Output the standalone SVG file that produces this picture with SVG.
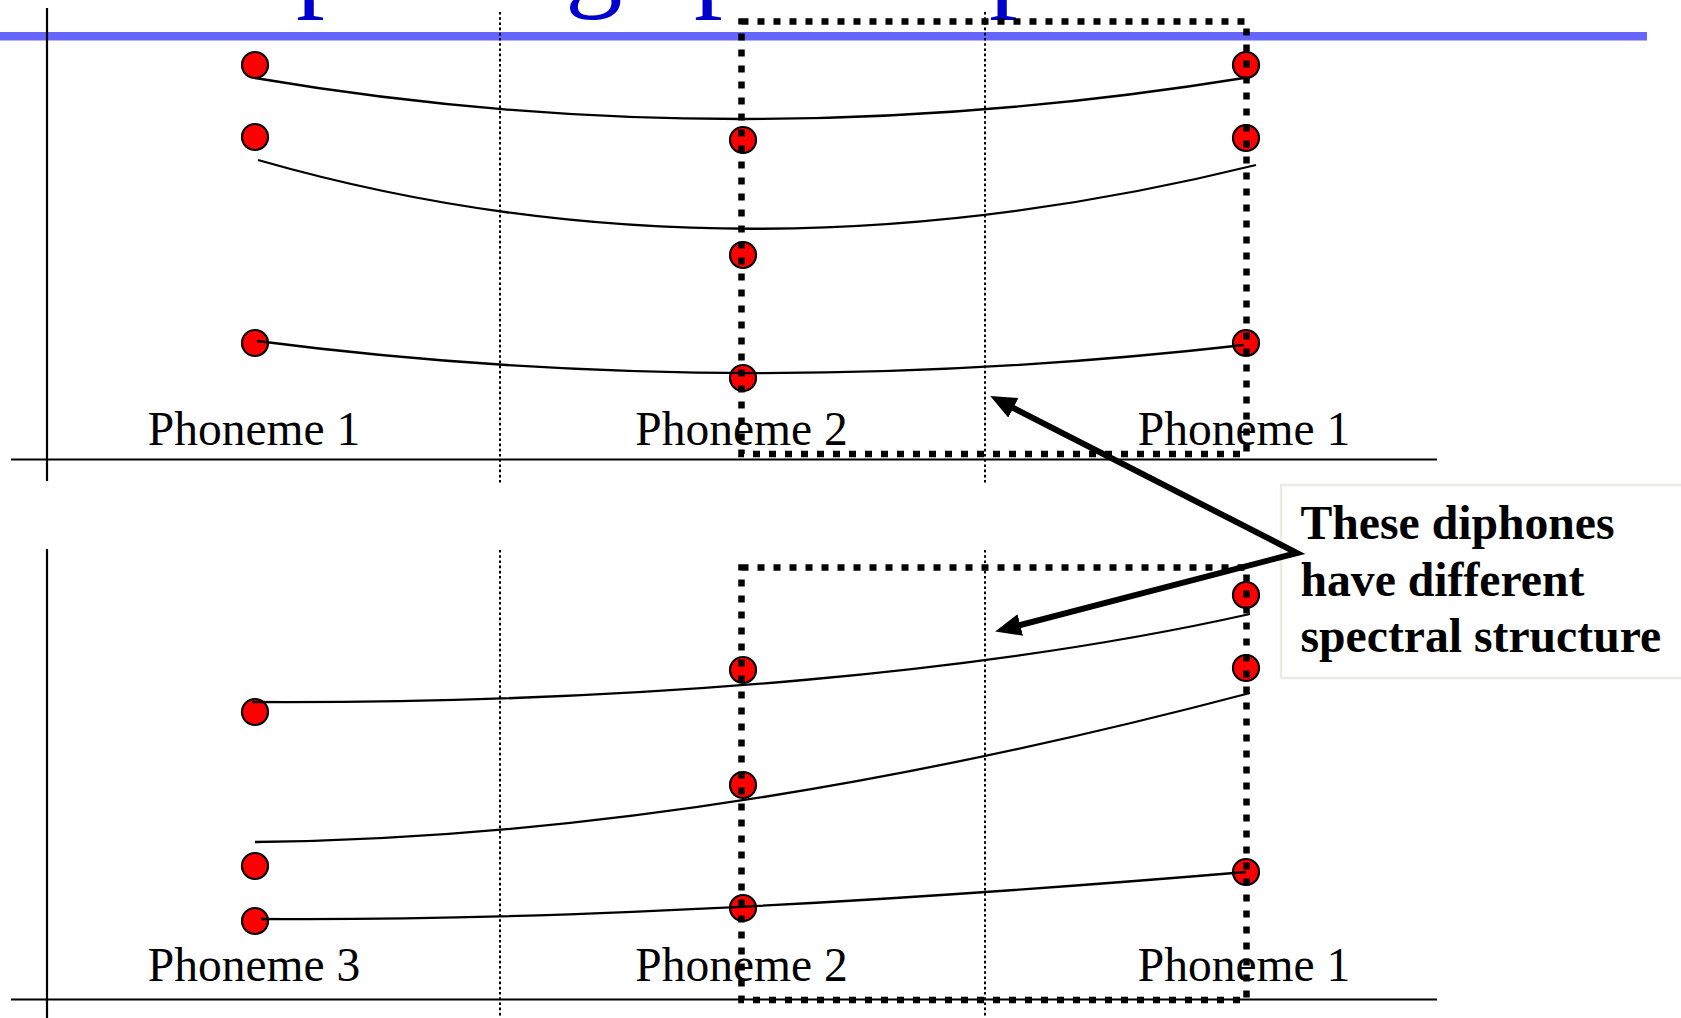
<svg xmlns="http://www.w3.org/2000/svg" width="1681" height="1018" viewBox="0 0 1681 1018">
<style>
.ax{stroke:#000;stroke-width:2.2;fill:none}
.dl{stroke:#000;stroke-width:2;stroke-dasharray:2.6 2.6;fill:none}
.cv{stroke:#000;stroke-width:2.3;fill:none}
.dot{fill:#FF0000;stroke:#000;stroke-width:2.2}
.box{fill:none;stroke:#000;stroke-width:6.5;stroke-dasharray:7 9}
.lbl{font-family:"Liberation Serif","Times New Roman",serif;font-size:47.5px;fill:#000;text-anchor:middle}
.note{font-family:"Liberation Serif","Times New Roman",serif;font-size:47.7px;font-weight:bold;fill:#000}
.ttl{font-family:"Liberation Serif","Times New Roman",serif;font-size:115px;fill:#0000CC}
.arr{stroke:#000;stroke-width:6;fill:none;stroke-linejoin:miter}
</style>
<defs>
<marker id="head" markerUnits="userSpaceOnUse" markerWidth="26" markerHeight="22" viewBox="0 0 26 22" refX="4" refY="11" orient="auto-start-reverse">
<path d="M0,0 L26,11 L0,22 z" fill="#000"/>
</marker>
</defs>
<rect width="1681" height="1018" fill="#fff"/>
<g id="title">
<text class="ttl" x="296" y="-4">p</text>
<text class="ttl" x="565" y="-4">g</text>
<text class="ttl" x="694" y="-4">p</text>
<text class="ttl" x="989" y="-4">p</text>
</g>
<rect id="title-bar" x="0" y="32" width="1647" height="8.5" fill="#6666FF"/>
<g id="top-panel">
<line class="ax" x1="47" y1="8" x2="47" y2="481"/>
<line class="ax" x1="11" y1="459.5" x2="1437" y2="459.5"/>
<line class="dl" x1="500" y1="12" x2="500" y2="483"/>
<line class="dl" x1="985" y1="12" x2="985" y2="483"/>
<g id="top-dots">
<circle class="dot" cx="255" cy="65" r="13"/>
<circle class="dot" cx="255" cy="137" r="13"/>
<circle class="dot" cx="255" cy="343" r="13"/>
<circle class="dot" cx="743" cy="140" r="13"/>
<circle class="dot" cx="743" cy="255" r="13"/>
<circle class="dot" cx="743" cy="378" r="13"/>
<circle class="dot" cx="1246" cy="65" r="13"/>
<circle class="dot" cx="1246" cy="138" r="13"/>
<circle class="dot" cx="1246" cy="343" r="13"/>
</g>
<g id="top-labels">
<text class="lbl" x="254" y="445">Phoneme 1</text>
<text class="lbl" x="741.5" y="445">Phoneme 2</text>
<text class="lbl" x="1244" y="445">Phoneme 1</text>
</g>
</g>
<g id="bottom-panel">
<line class="ax" x1="47" y1="549" x2="47" y2="1018"/>
<line class="ax" x1="11" y1="999.5" x2="1437" y2="999.5"/>
<line class="dl" x1="500" y1="550" x2="500" y2="1018"/>
<line class="dl" x1="985" y1="550" x2="985" y2="1018"/>
<g id="bottom-dots">
<circle class="dot" cx="255" cy="712" r="13"/>
<circle class="dot" cx="255" cy="866" r="13"/>
<circle class="dot" cx="255" cy="921" r="13"/>
<circle class="dot" cx="743" cy="670" r="13"/>
<circle class="dot" cx="743" cy="785" r="13"/>
<circle class="dot" cx="743" cy="908" r="13"/>
<circle class="dot" cx="1246" cy="595" r="13"/>
<circle class="dot" cx="1246" cy="668" r="13"/>
<circle class="dot" cx="1246" cy="872" r="13"/>
</g>
<g id="bottom-labels">
<text class="lbl" x="254" y="981">Phoneme 3</text>
<text class="lbl" x="741.5" y="981">Phoneme 2</text>
<text class="lbl" x="1244" y="981">Phoneme 1</text>
</g>
</g>
<g id="connectors">
<path class="cv" d="M255,78 Q736.5,160 1244,78"/>
<path class="cv" d="M258,160 Q729,295 1256,165"/>
<path class="cv" d="M257,341 Q735.5,403 1244,345"/>
<path class="cv" d="M252,702 C650,704 1000,670 1250,614"/>
<path class="cv" d="M255,842 Q700,838 1250,693"/>
<path class="cv" d="M261,919 Q650,922 1246,872"/>
</g>
<g id="diphone-boxes">
<rect id="box-top" class="box" x="741.5" y="21.5" width="505" height="432.5"/>
<rect id="box-bottom" class="box" x="741.5" y="567.5" width="505" height="432.5"/>
</g>
<g id="note">
<rect x="1281" y="485" width="420" height="193" fill="#fff" stroke="#ECEBE2" stroke-width="2.5"/>
<text class="note" x="1300.5" y="539">These diphones</text>
<text class="note" x="1300.5" y="596">have different</text>
<text class="note" x="1300.5" y="652">spectral structure</text>
</g>
<g id="arrows">
<path class="arr" d="M1009.8,406.1 L1297,553 L1016.4,626" marker-start="url(#head)" marker-end="url(#head)"/>
</g>
</svg>
